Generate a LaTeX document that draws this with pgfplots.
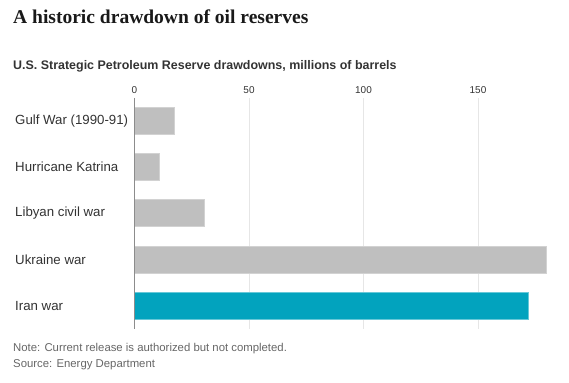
\documentclass[border=0pt]{standalone}
\usepackage{fontspec}
\setmainfont{Liberation Sans}
\newfontfamily\titlefont{Liberation Serif}
\usepackage{pgfplots}
\pgfplotsset{compat=1.18}
\definecolor{barg}{HTML}{BFBFBF}
\definecolor{bart}{HTML}{02A3BE}
\definecolor{gridc}{HTML}{E6E6E6}
\definecolor{axc}{HTML}{8C8C8C}
\definecolor{txt}{HTML}{333333}
\definecolor{notec}{HTML}{666666}
\begin{document}
\begin{tikzpicture}[x=1bp,y=1bp]
\path[use as bounding box] (0,0) rectangle (569,382);
\node[anchor=west, inner sep=0pt, font=\titlefont\bfseries\fontsize{19.6}{22}\selectfont, text=black!90] at (13,365) {A historic drawdown of oil reserves};
\node[anchor=west, inner sep=0pt, font=\bfseries\fontsize{12.5}{14}\selectfont, text=txt] at (13,316) {U.S. Strategic Petroleum Reserve drawdowns, millions of barrels};
\begin{axis}[
  at={(134.5bp,53bp)}, anchor=south west, scale only axis,
  width=423.65bp, height=231.25bp,
  xmin=0, xmax=185, ymin=-0.5, ymax=4.5, y dir=reverse,
  xbar, bar width=27bp, bar shift=0pt,
  xtick={0,50,100,150}, ytick={0,1,2,3,4},
  yticklabels={Gulf War (1990-91), Hurricane Katrina, Libyan civil war, Ukraine war, Iran war},
  xticklabel pos=upper,
  xmajorgrids, grid style={gridc, line width=1bp},
  axis line style={draw=none}, major tick length=0pt, tick style={draw=none},
  xticklabel style={font=\fontsize{10}{12}\selectfont, text=txt, inner sep=0pt, anchor=south, yshift=4bp},
  yticklabel style={anchor=west, inner sep=0pt, xshift=-119.5bp, font=\fontsize{13.3}{15}\selectfont, text=txt},
  /pgf/number format/assume math mode=true,
  clip=false,
]
\addplot[fill=barg, draw=barg!70!white, line width=0.8bp] coordinates {(17.3,0) (11,1) (30.6,2) (180,3)};
\addplot[fill=bart, draw=bart!60!white, line width=0.8bp] coordinates {(172,4)};
\draw[axc, line width=1.5bp] (axis cs:0,-0.5) -- (axis cs:0,4.5);
\end{axis}
\node[anchor=west, inner sep=0pt, font=\fontsize{11.4}{13}\selectfont, text=notec] at (13,33) {Note: Current release is authorized but not completed.};
\node[anchor=west, inner sep=0pt, font=\fontsize{11.4}{13}\selectfont, text=notec] at (13,17) {Source: Energy Department};
\end{tikzpicture}
\end{document}
